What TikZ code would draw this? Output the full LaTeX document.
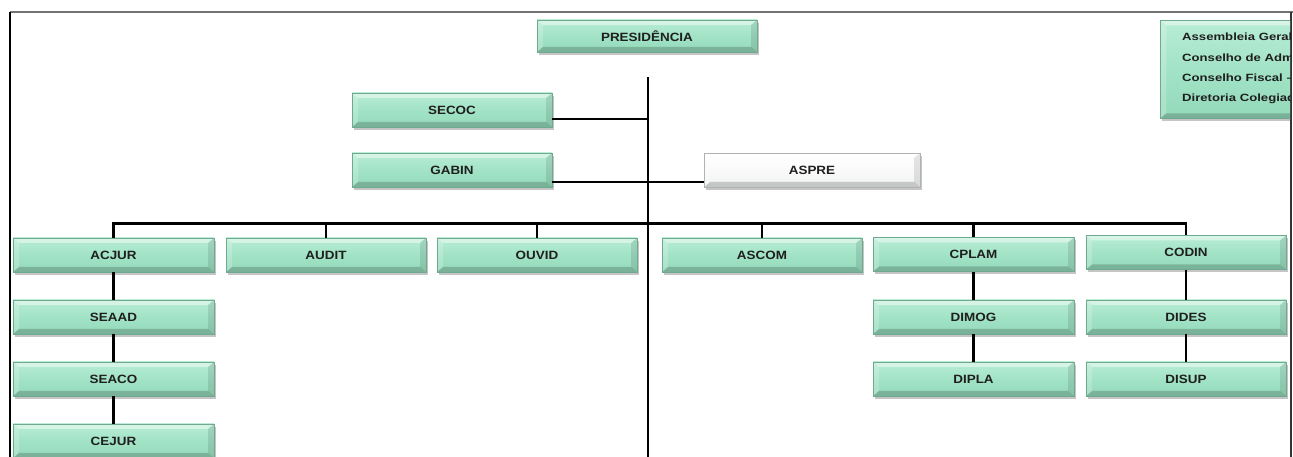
\documentclass[tikz,border=0pt]{standalone}
\usepackage{fontspec}
\setmainfont{Liberation Sans}[FakeStretch=1.12]
\newfontfamily\legfont{Liberation Sans}[FakeStretch=1.25]
\usetikzlibrary{shadows}
\definecolor{mintT}{HTML}{B8EDD5}
\definecolor{mintM}{HTML}{A2E3C6}
\definecolor{mintB}{HTML}{93D9B9}
\definecolor{mintD}{HTML}{6FA98F}
\definecolor{paleT}{HTML}{FFFFFF}
\definecolor{paleB}{HTML}{EEF3F0}
\tikzset{
  bevel/.style={path picture={
    \fill[white, opacity=.45] (path picture bounding box.north west) -- (path picture bounding box.north east)
      -- ([xshift=-6bp,yshift=-5bp]path picture bounding box.north east) -- ([xshift=6bp,yshift=-5bp]path picture bounding box.north west) -- cycle;
    \fill[black, opacity=.18] (path picture bounding box.south west) -- (path picture bounding box.south east)
      -- ([xshift=-6bp,yshift=5bp]path picture bounding box.south east) -- ([xshift=6bp,yshift=5bp]path picture bounding box.south west) -- cycle;
    \fill[black, opacity=.10] (path picture bounding box.north east) -- (path picture bounding box.south east)
      -- ([xshift=-6bp,yshift=5bp]path picture bounding box.south east) -- ([xshift=-6bp,yshift=-5bp]path picture bounding box.north east) -- cycle;
    \fill[white, opacity=.20] (path picture bounding box.north west) -- (path picture bounding box.south west)
      -- ([xshift=6bp,yshift=5bp]path picture bounding box.south west) -- ([xshift=6bp,yshift=-5bp]path picture bounding box.north west) -- cycle;
  }},
  box/.style={rectangle, top color=mintT, bottom color=mintB, middle color=mintM, bevel,
    draw=mintD, line width=0.6bp, minimum width=200bp, minimum height=34bp,
    inner sep=0pt, font=\fontsize{12bp}{14bp}\selectfont\bfseries, text=black!88,
    drop shadow={shadow xshift=2bp, shadow yshift=-3bp, fill=black!45, opacity=.5}},
  palebox/.style={box, top color=paleT, bottom color=paleB, middle color=white!98!black, draw=black!30},
  conn/.style={draw=black, line width=2.6bp},
  legtext/.style={anchor=west, inner sep=0pt, font=\legfont\fontsize{10.5bp}{12bp}\selectfont\bfseries, text=black!88},
}
\begin{document}
\begin{tikzpicture}[x=1bp, y=-1bp]
\useasboundingbox (0,0) rectangle (1293,457);
\clip (0,0) rectangle (1293,457);
% frame
\draw[black!55, line width=1.5bp] (10,12) -- (1293,12);
\draw[black, line width=1.2bp] (10,12) -- (10,460);
\draw[black!80, line width=1.2bp] (1291,12) -- (1291,460);
% legend
\begin{scope}
\clip (0,0) rectangle (1290,457);
\node[box, anchor=north west, minimum width=150bp, minimum height=98bp] (leg) at (1160,20) {};
\node[legtext] (l1) at (1182,37) {Assembleia Geral};
\node[legtext] (l2) at (1182,57.5) {Conselho de Adm};
\node[legtext] (l3) at (1182,78) {Conselho Fiscal –};
\node[legtext] (l4) at (1182,99) {Diretoria Colegiad};
\end{scope}
% trunk
\coordinate (top) at (648,77);
\coordinate (bot) at (648,462);
\coordinate (bus) at (648,223.5);
% nodes
\node[box, minimum width=220bp, minimum height=32bp] (pres) at (647,36) {PRESIDÊNCIA};
\node[box] (secoc) at (452,110) {SECOC};
\node[box] (gabin) at (452,170) {GABIN};
\node[palebox, minimum width=216bp] (aspre) at (812,170) {ASPRE};
\node[box, minimum width=201bp] (acjur) at (113.5,255) {ACJUR};
\node[box] (audit) at (326,255) {AUDIT};
\node[box] (ouvid) at (537,255) {OUVID};
\node[box] (ascom) at (762,255) {ASCOM};
\node[box, minimum width=201bp] (cplam) at (973.5,254.5) {CPLAM};
\node[box] (codin) at (1186,252.5) {CODIN};
\node[box, minimum width=201bp] (seaad) at (113.5,317) {SEAAD};
\node[box, minimum width=201bp] (seaco) at (113.5,379) {SEACO};
\node[box, minimum width=201bp] (cejur) at (113.5,441) {CEJUR};
\node[box, minimum width=201bp] (dimog) at (973.5,317) {DIMOG};
\node[box, minimum width=201bp] (dipla) at (973.5,379) {DIPLA};
\node[box] (dides) at (1186,317) {DIDES};
\node[box] (disup) at (1186,379) {DISUP};
% connectors
\draw[conn] (top) -- (bot);
\coordinate (s1) at ([yshift=-9bp]secoc.east);
\draw[conn] (s1) -- (s1 -| top);
\draw[conn] ([yshift=-12bp]gabin.east) -- ([yshift=-12bp]aspre.west);
\draw[conn, line cap=rect] (acjur.north |- bus) -- (codin.north |- bus);
\foreach \n in {acjur,audit,ouvid,ascom,cplam,codin}
  \draw[conn] (\n.north |- bus) -- (\n.north);
\draw[conn] (acjur.south) -- (seaad.north);
\draw[conn] (seaad.south) -- (seaco.north);
\draw[conn] (seaco.south) -- (cejur.north);
\draw[conn] (cplam.south) -- (dimog.north);
\draw[conn] (dimog.south) -- (dipla.north);
\draw[conn] (codin.south) -- (dides.north);
\draw[conn] (dides.south) -- (disup.north);
\end{tikzpicture}
\end{document}
